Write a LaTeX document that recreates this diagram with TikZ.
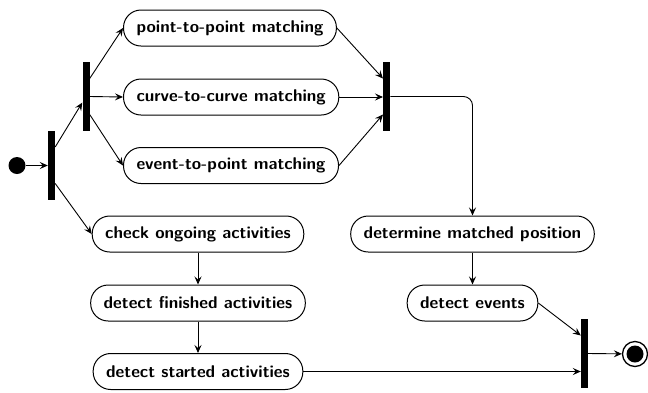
\documentclass[tikz,border=0pt]{standalone}
\usepackage{fontspec}
\usetikzlibrary{arrows.meta}
\begin{document}
\begin{tikzpicture}[x=1pt,y=-1pt,
  act/.style={draw,line width=1pt,rounded corners=17.5pt,minimum height=36pt,inner xsep=13pt,inner ysep=0pt,
    font=\fontsize{17}{20}\selectfont\sffamily\bfseries},
  bar/.style={fill=black,draw=none,minimum width=7pt,minimum height=69pt,inner sep=0pt},
  flow/.style={line width=0.9pt,-{Stealth[length=8pt,width=7pt,inset=3pt]}},
]
\useasboundingbox (0,0) rectangle (648,392);
\node[circle,fill=black,minimum size=17pt,inner sep=0pt] (init) at (17,165.5) {};
\node[bar] (fork1) at (51.5,165.5) {};
\node[bar] (fork2) at (86,96.5) {};
\node[bar] (join1) at (386.7,96.5) {};
\node[bar] (join2) at (584.5,353.5) {};
\node[act,anchor=west] (p2p) at (123,28) {point-to-point matching};
\node[act,anchor=west] (c2c) at (123,97) {curve-to-curve matching};
\node[act,anchor=west] (e2p) at (123,165.5) {event-to-point matching};
\node[act] (check) at (198,234) {check ongoing activities};
\node[act] (fin) at (198,303) {detect finished activities};
\node[act] (start) at (198,371.5) {detect started activities};
\node[act] (det) at (472.5,234) {determine matched position};
\node[act] (ev) at (472.5,303) {detect events};
\node[circle,draw,line width=1.3pt,minimum size=25pt,inner sep=0pt] (final) at (635,354) {};
\node[circle,fill=black,minimum size=17pt,inner sep=0pt] (finaldot) at (final.center) {};

\draw[flow] (init) -- (fork1);
\draw[flow] ([yshift=18.5pt]fork1.east) -- (fork2);
\draw[flow] ([yshift=-18pt]fork1.east) -- (check.west);
\draw[flow] ([yshift=18pt]fork2.east) -- (p2p.west);
\draw[flow] (fork2.east) -- (c2c.west);
\draw[flow] ([yshift=-18pt]fork2.east) -- (e2p.west);
\draw[flow] (p2p.east) -- ([yshift=18pt]join1.west);
\draw[flow] (c2c.east) -- (c2c.east -| join1.west);
\draw[flow] (e2p.east) -- ([yshift=-18pt]join1.west);
\draw[flow,rounded corners=9pt] (join1.east) -| (det.north);
\draw[flow] (check) -- (fin);
\draw[flow] (fin) -- (start);
\draw[flow] (det) -- (ev);
\draw[flow] (ev.east) -- ([yshift=18pt]join2.west);
\draw[flow] (start.east) -- (start.east -| join2.west);
\draw[flow] (join2.east) -- (final);
\end{tikzpicture}
\end{document}
